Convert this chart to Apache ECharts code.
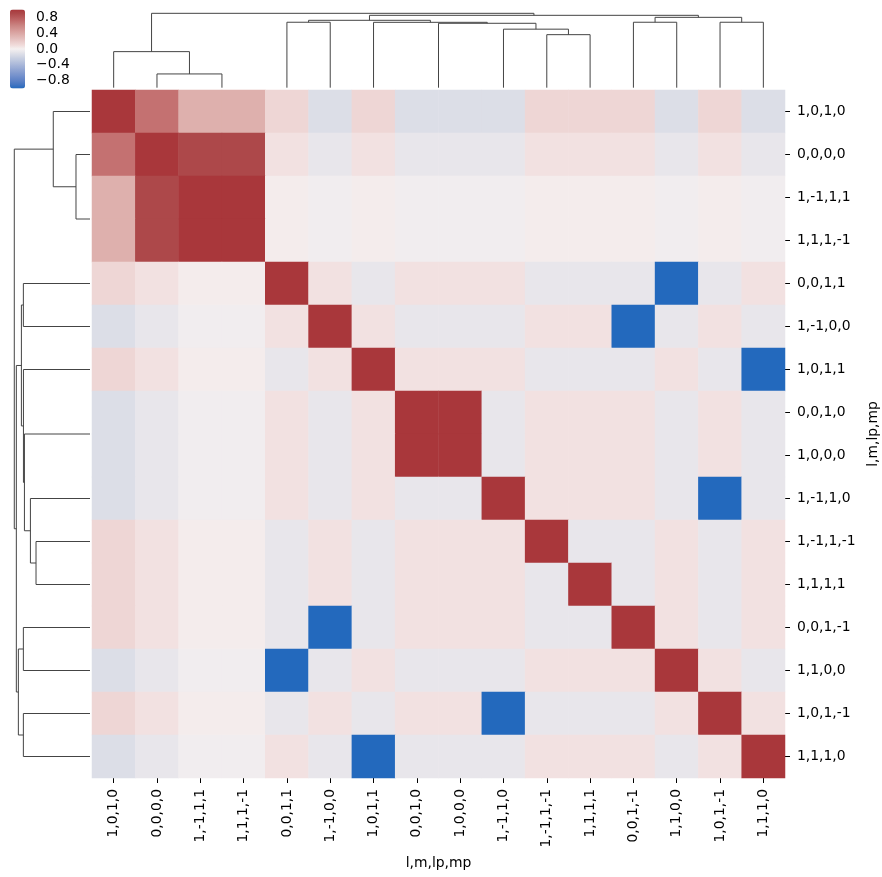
<!DOCTYPE html>
<html>
<head>
<meta charset="utf-8">
<script src="https://cdn.jsdelivr.net/npm/echarts@6/dist/echarts.min.js"></script>
<style>html,body{margin:0;padding:0;background:#fff;}#c{width:882px;height:877px;}</style>
</head>
<body>
<div id="c"></div>
<script>
// Category labels (clustered order, same for rows and columns)
const labels = ['1,0,1,0','0,0,0,0','1,-1,1,1','1,1,1,-1','0,0,1,1','1,-1,0,0','1,0,1,1','0,0,1,0','1,0,0,0','1,-1,1,0','1,-1,1,-1','1,1,1,1','0,0,1,-1','1,1,0,0','1,0,1,-1','1,1,1,0'];

// Correlation values, row by row (estimated from colours)
const row0  = [1, .68, .35, .35, .13, -.13, .13, -.13, -.13, -.13, .13, .13, .13, -.13, .13, -.13];
const row1  = [.68, 1, .9, .9, .07, -.07, .07, -.07, -.07, -.07, .07, .07, .07, -.07, .07, -.07];
const row2  = [.35, .9, 1, 1, .02, -.02, .02, -.02, -.02, -.02, .02, .02, .02, -.02, .02, -.02];
const row3  = [.35, .9, 1, 1, .02, -.02, .02, -.02, -.02, -.02, .02, .02, .02, -.02, .02, -.02];
const row4  = [.13, .07, .02, .02, 1, .07, -.07, .07, .07, .07, -.07, -.07, -.07, -1, -.07, .07];
const row5  = [-.13, -.07, -.02, -.02, .07, 1, .07, -.07, -.07, -.07, .07, .07, -1, -.07, .07, -.07];
const row6  = [.13, .07, .02, .02, -.07, .07, 1, .07, .07, .07, -.07, -.07, -.07, .07, -.07, -1];
const row7  = [-.13, -.07, -.02, -.02, .07, -.07, .07, 1, 1, -.07, .07, .07, .07, -.07, .07, -.07];
const row8  = [-.13, -.07, -.02, -.02, .07, -.07, .07, 1, 1, -.07, .07, .07, .07, -.07, .07, -.07];
const row9  = [-.13, -.07, -.02, -.02, .07, -.07, .07, -.07, -.07, 1, .07, .07, .07, -.07, -1, -.07];
const row10 = [.13, .07, .02, .02, -.07, .07, -.07, .07, .07, .07, 1, -.07, -.07, .07, -.07, .07];
const row11 = [.13, .07, .02, .02, -.07, .07, -.07, .07, .07, .07, -.07, 1, -.07, .07, -.07, .07];
const row12 = [.13, .07, .02, .02, -.07, -1, -.07, .07, .07, .07, -.07, -.07, 1, .07, -.07, .07];
const row13 = [-.13, -.07, -.02, -.02, -1, -.07, .07, -.07, -.07, -.07, .07, .07, .07, 1, .07, -.07];
const row14 = [.13, .07, .02, .02, -.07, .07, -.07, .07, .07, -1, -.07, -.07, -.07, .07, 1, .07];
const row15 = [-.13, -.07, -.02, -.02, .07, -.07, -1, -.07, -.07, -.07, .07, .07, .07, -.07, .07, 1];
const matrix = [row0,row1,row2,row3,row4,row5,row6,row7,row8,row9,row10,row11,row12,row13,row14,row15];

// Linkage (scipy style): [childA, childB, height]; leaves 0..15, clusters 16+
const linkA = [2, 7, 10, 9, 17, 6, 4, 22, 12, 14, 24, 23, 1, 0, 29];
const linkB = [3, 8, 11, 18, 19, 20, 5, 21, 13, 15, 25, 26, 16, 28, 27];
const linkH = [0, 0, 0.713, 0.787, 0.866, 0.879, 0.88, 0.906, 0.88, 0.88, 0.946, 0.973, 0.185, 0.485, 1.0];

// Colour bar ticks
const cbarTicks = [-0.8, -0.4, 0, 0.4, 0.8];

// vlag-like colour ramp, -1..1 in steps of 0.1
const vlag = ['#2369bd','#4475c1','#5d81c6','#708ecb','#839bcf','#96a9d4','#a9b7d9','#bcc6de','#cfd4e3','#e2e2e9',
  '#f5f0f0','#f0dbda','#e9c9c8','#e1b8b6','#dba7a4','#d39593','#ca8381','#c26d6d','#b85a5b','#ad484a','#a9373b'];

const n = labels.length;
const heatData = [];
for (let r = 0; r < n; r++) for (let c = 0; c < n; c++) heatData.push([c, r, matrix[r][c]]);

// dendrogram geometry
const pos = [], hgt = [];
for (let i = 0; i < n; i++) { pos.push(i + 0.5); hgt.push(0); }
const topLines = [], leftLines = [];
for (let k = 0; k < linkA.length; k++) {
  const a = linkA[k], b = linkB[k], h = linkH[k];
  const pa = pos[a], pb = pos[b];
  pos.push((pa + pb) / 2); hgt.push(h);
  if (h <= 0) continue;
  topLines.push({coords: [[pa, hgt[a]], [pa, h], [pb, h], [pb, hgt[b]]]});
  leftLines.push({coords: [[hgt[a], pa], [h, pa], [h, pb], [hgt[b], pb]]});
}

const FF = 'DejaVu Sans';
const FS = 13.9;
const txt = {fontFamily: FF, fontSize: FS, color: '#000'};
const gb = {containLabel: false, outerBoundsMode: 'none'};

const chart = echarts.init(document.getElementById('c'), null, {renderer: 'canvas'});
chart.setOption({
  animation: false,
  backgroundColor: '#fff',
  grid: [
    Object.assign({left: 92, top: 90, width: 693, height: 688}, gb),
    Object.assign({left: 92, top: 9.6, width: 693, height: 78.1}, gb),
    Object.assign({left: 10.5, top: 90, width: 79.5, height: 688}, gb),
    Object.assign({left: 10, top: 9.5, width: 15, height: 79}, gb)
  ],
  xAxis: [
    {gridIndex: 0, type: 'category', data: labels, position: 'bottom',
     axisLine: {show: false}, splitLine: {show: false},
     axisTick: {show: true, alignWithLabel: true, length: 5, lineStyle: {color: '#000', width: 1}},
     axisLabel: Object.assign({rotate: 90, margin: 11, interval: 0}, txt),
     name: 'l,m,lp,mp', nameLocation: 'middle', nameGap: 78, nameTextStyle: txt},
    {gridIndex: 1, type: 'value', min: 0, max: n, show: false},
    {gridIndex: 2, type: 'value', min: 0, max: 1.05, inverse: true, show: false},
    {gridIndex: 3, type: 'value', min: 0, max: 1, show: false}
  ],
  yAxis: [
    {gridIndex: 0, type: 'category', data: labels, inverse: true, position: 'right',
     axisLine: {show: false}, splitLine: {show: false},
     axisTick: {show: true, alignWithLabel: true, length: 5, lineStyle: {color: '#000', width: 1}},
     axisLabel: Object.assign({margin: 12, interval: 0}, txt),
     name: 'l,m,lp,mp', nameLocation: 'middle', nameRotate: 90, nameGap: 76, nameTextStyle: txt},
    {gridIndex: 1, type: 'value', min: 0, max: 1.05, show: false},
    {gridIndex: 2, type: 'value', min: 0, max: n, inverse: true, show: false},
    {gridIndex: 3, type: 'value', min: -1, max: 1, position: 'right',
     axisLine: {show: false}, splitLine: {show: false},
     axisTick: {show: true, length: 5, customValues: cbarTicks, lineStyle: {color: '#000', width: 1}},
     axisLabel: Object.assign({margin: 11, customValues: cbarTicks,
       formatter: v => (v < 0 ? '\u2212' : '') + Math.abs(v).toFixed(1)}, txt)}
  ],
  visualMap: {
    type: 'continuous', min: -1, max: 1, seriesIndex: 0, calculable: false,
    orient: 'vertical', left: 10, top: 9.5, itemWidth: 15, itemHeight: 79, padding: 0,
    text: null, showLabel: false, hoverLink: false,
    inRange: {color: vlag}
  },
  series: [
    {type: 'heatmap', xAxisIndex: 0, yAxisIndex: 0, data: heatData, silent: true,
     itemStyle: {borderWidth: 0}, emphasis: {disabled: true}},
    {type: 'lines', coordinateSystem: 'cartesian2d', xAxisIndex: 1, yAxisIndex: 1, polyline: true,
     data: topLines, silent: true, lineStyle: {color: '#444', width: 1, opacity: 1}},
    {type: 'lines', coordinateSystem: 'cartesian2d', xAxisIndex: 2, yAxisIndex: 2, polyline: true,
     data: leftLines, silent: true, lineStyle: {color: '#444', width: 1, opacity: 1}},
    {type: 'scatter', xAxisIndex: 3, yAxisIndex: 3, data: [], silent: true}
  ]
});
</script>
</body>
</html>
